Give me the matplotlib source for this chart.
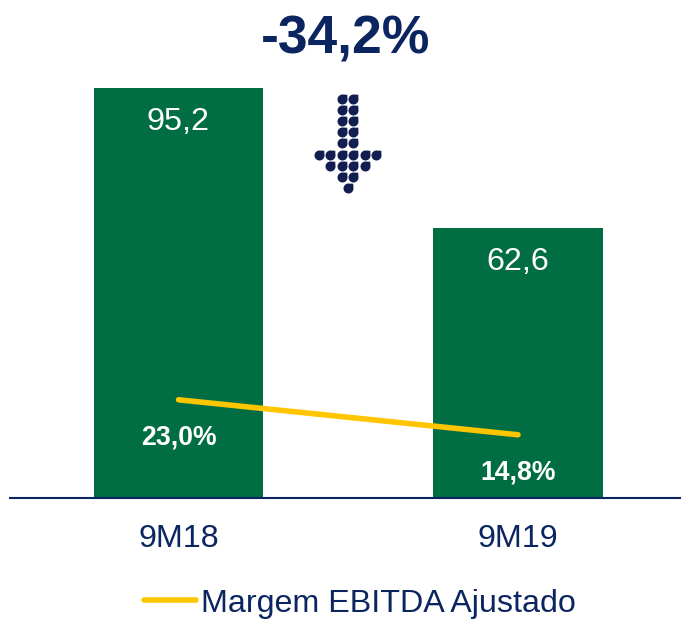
import matplotlib
matplotlib.use("Agg")
import matplotlib.pyplot as plt
import numpy as np
from matplotlib.lines import Line2D
from matplotlib.path import Path

plt.rcParams['font.family'] = ['Liberation Sans', 'DejaVu Sans']

categories = ["9M18", "9M19"]
revenue = [95.2, 62.6]
revenue_labels = ["95,2", "62,6"]
margin = [23.0, 14.8]
margin_labels = ["23,0%", "14,8%"]
title_text = "-34,2%"
legend_text = "Margem EBITDA Ajustado"
arrow_rows = [[-.5, .5], [-.5, .5], [-.5, .5], [-.5, .5], [-.5, .5],
              [-2.5, -1.5, -.5, .5, 1.5, 2.5], [-1.5, -.5, .5, 1.5], [-.5, .5], [0]]

W, H = 684, 619
fig = plt.figure(figsize=(W / 100, H / 100), dpi=100, facecolor="white")
ax = fig.add_axes([10 / W, 1 - 498 / H, 670 / W, 410 / H])
ax.set_xlim(10, 680)
ax.set_ylim(0, 95.2)
green = "#006E42"; navy = "#0B2560"; gold = "#FFC600"
xs = [178.5, 518]
ax.bar(xs, revenue, width=169.5, color=green)
for s in ["top", "left", "right"]:
    ax.spines[s].set_visible(False)
ax.spines["bottom"].set_color(navy)
ax.spines["bottom"].set_linewidth(1.5)
ax.set_yticks([])
ax.set_xticks(xs, categories, fontsize=23.2, color=navy)
ax.tick_params(axis="x", length=0, pad=19)
for x, v, l in zip(xs, revenue, revenue_labels):
    ax.annotate(l, (x, v), xytext=(0, -34), textcoords="offset pixels", ha="center", va="center",
                color="white", fontsize=23.3)

# margin line on its own scale
ax2 = ax.twinx()
ax2.set_ylim(0, 96)
ax2.axis("off")
ax2.plot(xs, margin, color=gold, lw=4, solid_capstyle="round")
for x, v, l in zip(xs, margin, margin_labels):
    ax2.annotate(l, (x, v), xytext=(0, -38), textcoords="offset pixels", ha="center", va="center",
                 color="white", fontsize=19.2, fontweight="bold")

fig.text(346 / W, 1 - 39 / H, title_text, ha="center", va="center", fontsize=38.5, fontweight="bold", color=navy)

# teardrop marker: circle with a pointed upper-right corner
theta = np.linspace(np.pi / 2, 2 * np.pi, 40)
drop = np.column_stack([np.cos(theta), np.sin(theta)])
drop = np.vstack([drop, [0.95, 0.95], drop[0]])
drop_marker = Path(drop, closed=True)

# dotted down arrow
for r, cols in enumerate(arrow_rows):
    for c in cols:
        fig.add_artist(Line2D([(347.5 + c * 11.4) / W], [1 - (98.5 + r * 11.2) / H], marker=drop_marker,
                              ms=7.2, mew=0, color="#131E50", ls="none"))

fig.add_artist(Line2D([144 / W, 196 / W], [1 - 600 / H] * 2, color=gold, lw=4, solid_capstyle="round"))
fig.text(201 / W, 1 - 604 / H, legend_text, ha="left", va="center", fontsize=23.2, color=navy)

fig.savefig("out.png", dpi=100)
